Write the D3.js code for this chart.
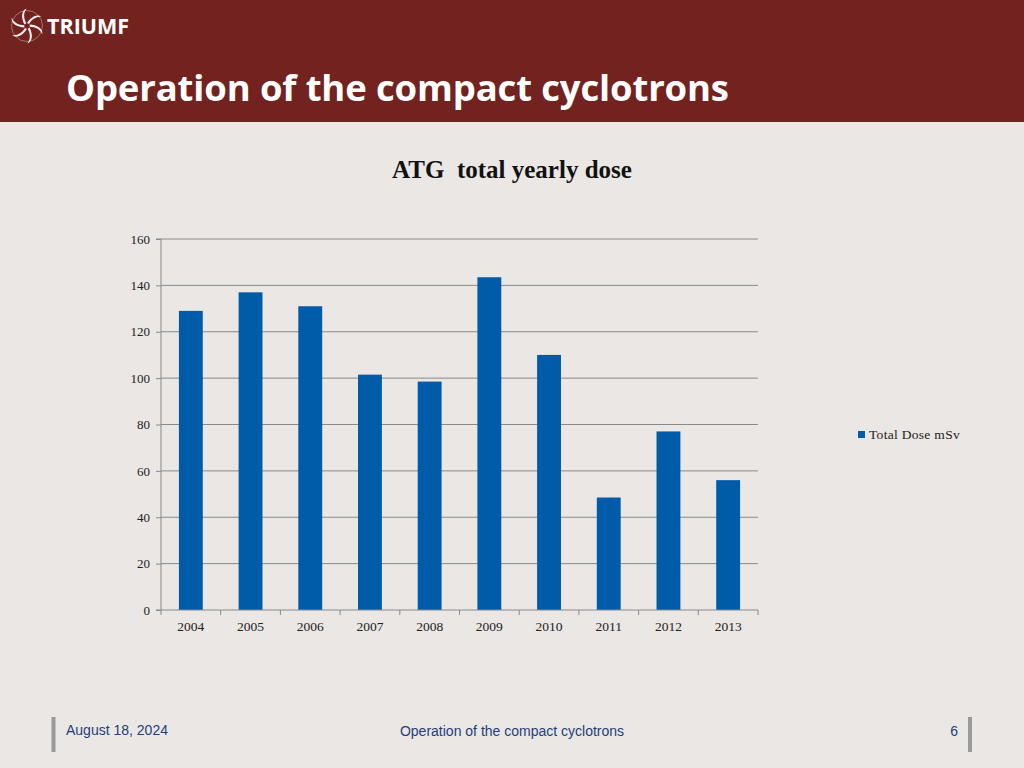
<!DOCTYPE html>
<html><head><meta charset="utf-8">
<script src="https://cdn.jsdelivr.net/npm/d3@7"></script>
<style>
html,body{margin:0;padding:0;background:#EAE7E4;}
svg{display:block;}
</style></head>
<body>
<script>
const years = ["2004","2005","2006","2007","2008","2009","2010","2011","2012","2013"];
const doses = [129, 137, 131, 101.5, 98.5, 143.5, 110, 48.5, 77, 56];
const yTicks = [0,20,40,60,80,100,120,140,160];
const seriesName = "Total Dose mSv";

const W=1024,H=768;
const svg=d3.select("body").append("svg").attr("width",W).attr("height",H);
svg.append("rect").attr("width",W).attr("height",H).attr("fill","#EAE7E4");
// header
svg.append("rect").attr("width",W).attr("height",122).attr("fill","#722320");
svg.append("text").attr("x",66).attr("y",101).text("Operation of the compact cyclotrons")
  .attr("fill","#fff").attr("font-family","Open Sans, Lato, sans-serif").attr("font-weight","bold").attr("font-size",36.5).attr("letter-spacing",-0.15);
// logo
const lg=svg.append("g").attr("transform","translate(27,26)");
for(let i=0;i<6;i++){
  lg.append("path").attr("d","M0,-3 C4,-9 10,-13 15,-9 C10,-10 5,-7 2,-2 Z")
    .attr("fill","#fff").attr("opacity",0.92).attr("transform",`rotate(${i*60})`);
}
lg.append("circle").attr("r",15.5).attr("fill","none").attr("stroke","#fff").attr("stroke-width",1).attr("opacity",0.35);
svg.append("text").attr("x",47).attr("y",34).text("TRIUMF").attr("fill","#fff")
  .attr("font-family","Open Sans, sans-serif").attr("font-weight","bold").attr("font-size",21.5);

// chart
const m={l:161,r:758,t:239,b:610};
const x=d3.scaleBand().domain(years).range([m.l,m.r]).paddingInner(0.6).paddingOuter(0.3);
const y=d3.scaleLinear().domain([0,160]).range([m.b,m.t]);
const serif="Liberation Serif, DejaVu Serif, serif";

svg.append("text").attr("x",512).attr("y",178).attr("text-anchor","middle")
  .attr("font-family",serif).attr("font-weight","bold").attr("font-size",25).attr("fill","#111")
  .attr("xml:space","preserve").text("ATG  total yearly dose");

const grid=svg.append("g");
yTicks.filter(d=>d>0).forEach(t=>{
  grid.append("line").attr("x1",m.l).attr("x2",m.r).attr("y1",y(t)).attr("y2",y(t))
   .attr("stroke","#8a8a8a").attr("stroke-width",1);
});
svg.append("g").selectAll("rect").data(years).join("rect")
  .attr("x",d=>x(d)).attr("width",x.bandwidth())
  .attr("y",(d,i)=>y(doses[i])).attr("height",(d,i)=>y(0)-y(doses[i]))
  .attr("fill","#005CA8");

const ya=svg.append("g").attr("transform",`translate(${m.l},0)`)
  .call(d3.axisLeft(y).tickValues(yTicks).tickSize(5).tickPadding(6));
ya.select(".domain").attr("stroke","#8a8a8a").attr("d",`M-5,${m.b}H0V${m.t}H-5`);
ya.selectAll(".tick line").attr("stroke","#8a8a8a");
ya.selectAll("text").attr("font-family",serif).attr("font-size",13).attr("fill","#222");

const x0=d3.scaleLinear().domain([0,10]).range([m.l,m.r]);
const xa=svg.append("g").attr("transform",`translate(0,${m.b})`);
xa.append("line").attr("x1",m.l).attr("x2",m.r).attr("stroke","#8a8a8a");
d3.range(11).forEach(i=>xa.append("line").attr("x1",x0(i)).attr("x2",x0(i)).attr("y1",0).attr("y2",5).attr("stroke","#8a8a8a"));
xa.selectAll("text").data(years).join("text").attr("x",d=>x(d)+x.bandwidth()/2).attr("y",21)
  .attr("text-anchor","middle").attr("font-family",serif).attr("font-size",13.5).attr("fill","#222").text(d=>d);

// legend
svg.append("rect").attr("x",858).attr("y",431).attr("width",7).attr("height",7).attr("fill","#005CA8");
svg.append("text").attr("x",869).attr("y",439).text(seriesName).attr("font-family",serif).attr("font-size",13.5).attr("letter-spacing",0.3).attr("fill","#222");

// footer
svg.append("rect").attr("x",51.5).attr("y",717).attr("width",4).attr("height",35).attr("fill","#999");
svg.append("rect").attr("x",968).attr("y",717).attr("width",4).attr("height",35).attr("fill","#999");
const sans="Liberation Sans, Arial, sans-serif";
svg.append("text").attr("x",66).attr("y",735).text("August 18, 2024").attr("font-family",sans).attr("font-size",14).attr("fill","#1F3E7C");
svg.append("text").attr("x",512).attr("y",736).attr("text-anchor","middle").text("Operation of the compact cyclotrons").attr("font-family",sans).attr("font-size",14).attr("fill","#1F3E7C");
svg.append("text").attr("x",958).attr("y",736).attr("text-anchor","end").text("6").attr("font-family",sans).attr("font-size",14).attr("fill","#1F3E7C");
</script>
</body></html>
